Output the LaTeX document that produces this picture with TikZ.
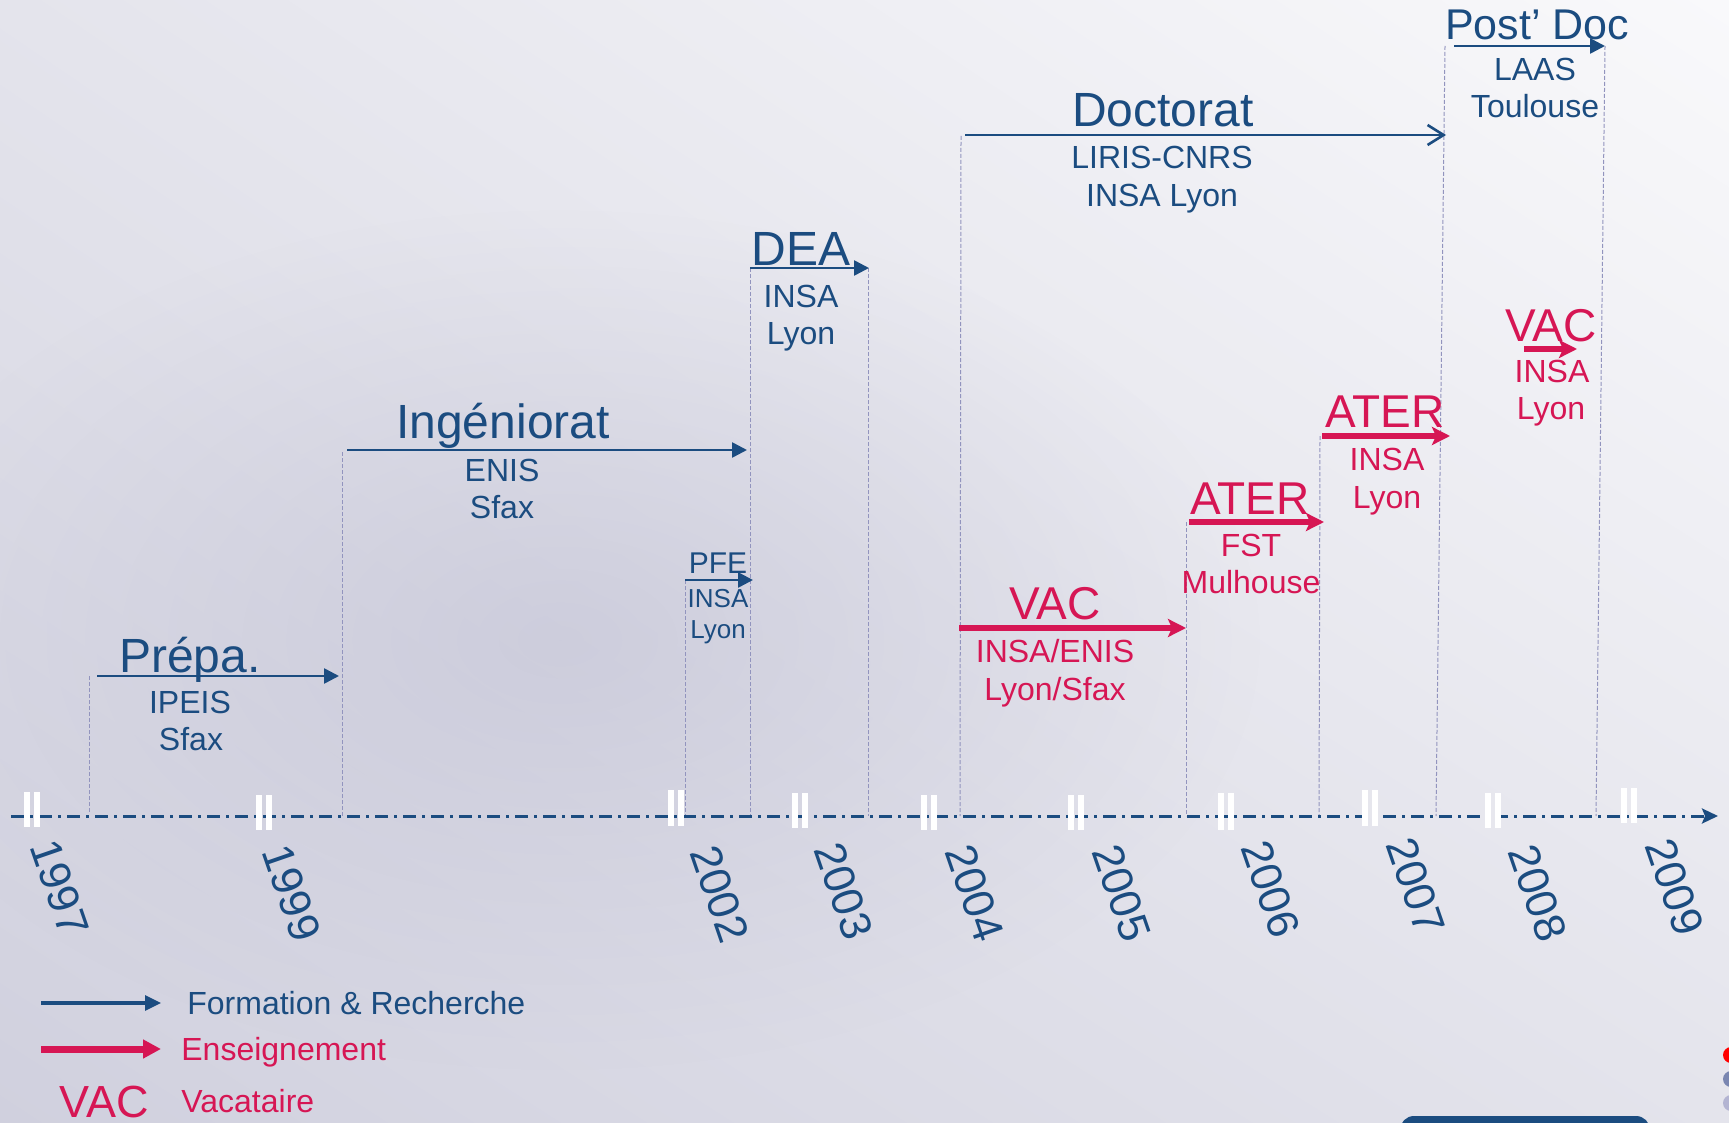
\documentclass[tikz,border=0pt]{standalone}
\usepackage{fontspec}
\setmainfont{Liberation Sans}
\usepackage{xcolor}
\usetikzlibrary{arrows.meta,positioning,fadings,shadings}

\definecolor{cvblue}{RGB}{27,76,128}
\definecolor{cvred}{RGB}{214,22,84}
\definecolor{cvguide}{RGB}{146,148,190}
\definecolor{bgtopl}{RGB}{228,228,236}
\definecolor{bgtopr}{RGB}{249,249,251}
\definecolor{bgbotl}{RGB}{208,208,222}
\definecolor{bgbotr}{RGB}{228,228,236}
\definecolor{bgdark}{RGB}{190,190,210}
\tikzfading[name=softblob, inner color=transparent!0, outer color=transparent!100]

\begin{document}
\begin{tikzpicture}[x=0.5pt,y=0.5pt,yscale=-1,
  formarrow/.style={cvblue,line width=1.3pt,-{Triangle[length=7.5pt,width=7.5pt]}},
  docarrow/.style={cvblue,line width=1.3pt,-{Straight Barb[length=8pt,width=10pt,line width=1.3pt]}},
  ensarrow/.style={cvred,line width=3.2pt,-{Stealth[length=9pt,width=9pt,inset=2pt]}},
  guide/.style={cvguide,line width=0.5pt,dash pattern=on 2pt off 1pt},
  timeaxis/.style={cvblue,line width=1.5pt,dash pattern=on 6.5pt off 3pt on 1.5pt off 3pt,-{Stealth[length=8pt,width=7.5pt,inset=1.5pt]}},
  tickbar/.style={white,line width=3pt},
  bigblue/.style={cvblue,inner sep=0pt,anchor=base,font=\fontsize{24}{28}\selectfont},
  bigred/.style={cvred,inner sep=0pt,anchor=base,font=\fontsize{23}{27}\selectfont},
  placeblue/.style={cvblue,inner sep=0pt,anchor=base,font=\fontsize{16}{19}\selectfont},
  placered/.style={cvred,inner sep=0pt,anchor=base,font=\fontsize{16}{19}\selectfont},
  smallblue/.style={cvblue,inner sep=0pt,anchor=base,font=\fontsize{13}{15}\selectfont},
  yearlbl/.style={cvblue,inner sep=0pt,rotate=-71,font=\fontsize{22}{26}\selectfont},
  legendtxt/.style={inner sep=0pt,anchor=base west,font=\fontsize{16}{19}\selectfont}]
\clip (0,0) rectangle (1729,1123);

% Background
\shade[upper left=bgtopl,upper right=bgtopr,lower left=bgbotl,lower right=bgbotr] (0,0) rectangle (1729,1123);
\fill[bgdark,opacity=0.55,path fading=softblob] (560,640) ellipse [x radius=700, y radius=430];

% Guide lines
\draw[guide] (89,676) -- (89,812);
\draw[guide] (342,452) -- (342,816);
\draw[guide] (685,580) -- (685,816);
\draw[guide] (750,268) -- (750,816);
\draw[guide] (868,268) -- (868,816);
\draw[guide] (961,136) -- (960,816);
\draw[guide] (1186,522) -- (1186,816);
\draw[guide] (1320,436) -- (1319,816);
\draw[guide] (1445,46) -- (1436,816);
\draw[guide] (1605,46) -- (1596,816);

% Time axis
\coordinate (axisS) at (11,816);
\coordinate (axisE) at (1718,816);
\draw[timeaxis] (axisS) -- (axisE);

% Year ticks
\draw[tickbar] (27,792) -- (27,827) (37,792) -- (37,827);
\draw[tickbar] (259,795) -- (259,830) (269,795) -- (269,830);
\draw[tickbar] (671,790) -- (671,826) (681,790) -- (681,826);
\draw[tickbar] (795,793) -- (795,828) (805,793) -- (805,828);
\draw[tickbar] (924,795) -- (924,830) (934,795) -- (934,830);
\draw[tickbar] (1071,795) -- (1071,830) (1081,795) -- (1081,830);
\draw[tickbar] (1221,793) -- (1221,830) (1231,793) -- (1231,830);
\draw[tickbar] (1365,790) -- (1365,826) (1375,790) -- (1375,826);
\draw[tickbar] (1488,793) -- (1488,828) (1498,793) -- (1498,828);
\draw[tickbar] (1624,788) -- (1624,823) (1634,788) -- (1634,823);

% Years
\node[yearlbl] (y1997) at (60,888) {1997};
\node[yearlbl] (y1999) at (292,893) {1999};
\node[yearlbl] (y2002) at (720,894) {2002};
\node[yearlbl] (y2003) at (844,891) {2003};
\node[yearlbl] (y2004) at (975,893) {2004};
\node[yearlbl] (y2005) at (1122,893) {2005};
\node[yearlbl] (y2006) at (1271,889) {2006};
\node[yearlbl] (y2007) at (1416,886) {2007};
\node[yearlbl] (y2008) at (1538,893) {2008};
\node[yearlbl] (y2009) at (1675,887) {2009};

% Prepa
\coordinate (prepaS) at (97,676);
\coordinate (prepaE) at (339,676);
\draw[formarrow] (prepaS) -- (prepaE);
\node[bigblue] (prepaT) at (190,672) {Prépa.};
\node[placeblue] (prepaA) at (190,713) {IPEIS};
\node[placeblue] (prepaB) at (191,750) {Sfax};

% Ingeniorat
\coordinate (ingS) at (347,450);
\coordinate (ingE) at (747,450);
\draw[formarrow] (ingS) -- (ingE);
\node[bigblue] (ingT) at (503,438) {Ingéniorat};
\node[placeblue] (ingA) at (502,481) {ENIS};
\node[placeblue] (ingB) at (502,518) {Sfax};

% PFE
\coordinate (pfeS) at (685,580);
\coordinate (pfeE) at (753,580);
\draw[formarrow] (pfeS) -- (pfeE);
\node[cvblue,inner sep=0pt,anchor=base,font=\fontsize{15}{18}\selectfont] (pfeT) at (718,573) {PFE};
\node[smallblue] (pfeA) at (718,607) {INSA};
\node[smallblue] (pfeB) at (718,638) {Lyon};

% DEA
\coordinate (deaS) at (750,268);
\coordinate (deaE) at (869,268);
\draw[formarrow] (deaS) -- (deaE);
\node[bigblue] (deaT) at (801,265) {DEA};
\node[placeblue] (deaA) at (801,307) {INSA};
\node[placeblue] (deaB) at (801,344) {Lyon};

% Doctorat
\coordinate (docS) at (965,135);
\coordinate (docE) at (1446,135);
\draw[docarrow] (docS) -- (docE);
\node[bigblue] (docT) at (1163,127) {Doctorat};
\node[placeblue] (docA) at (1162,169) {LIRIS-CNRS};
\node[placeblue] (docB) at (1162,207) {INSA Lyon};

% Post doc
\coordinate (postS) at (1454,46);
\coordinate (postE) at (1605,46);
\draw[formarrow] (postS) -- (postE);
\node[cvblue,inner sep=0pt,anchor=base,font=\fontsize{21.5}{25}\selectfont] (postT) at (1537,40) {Post’ Doc};
\node[placeblue] (postA) at (1535,81) {LAAS};
\node[placeblue] (postB) at (1535,118) {Toulouse};

% VAC INSA/ENIS
\coordinate (vacS) at (959,628);
\coordinate (vacE) at (1186,628);
\draw[ensarrow] (vacS) -- (vacE);
\node[bigred] (vacT) at (1055,619) {VAC};
\node[placered] (vacA) at (1055,662) {INSA/ENIS};
\node[placered] (vacB) at (1055,700) {Lyon/Sfax};

% ATER FST
\coordinate (aterfS) at (1189,522);
\coordinate (aterfE) at (1324,522);
\draw[ensarrow] (aterfS) -- (aterfE);
\node[bigred] (aterfT) at (1250,514) {ATER};
\node[placered] (aterfA) at (1251,556) {FST};
\node[placered] (aterfB) at (1251,593) {Mulhouse};

% ATER INSA
\coordinate (ateriS) at (1322,436);
\coordinate (ateriE) at (1450,436);
\draw[ensarrow] (ateriS) -- (ateriE);
\node[bigred] (ateriT) at (1385,427) {ATER};
\node[placered] (ateriA) at (1387,470) {INSA};
\node[placered] (ateriB) at (1387,508) {Lyon};

% VAC INSA
\coordinate (vaciS) at (1524,349);
\coordinate (vaciE) at (1577,349);
\draw[ensarrow] (vaciS) -- (vaciE);
\node[bigred] (vaciT) at (1551,341) {VAC};
\node[placered] (vaciA) at (1552,382) {INSA};
\node[placered] (vaciB) at (1551,419) {Lyon};

% Legend
\coordinate (legFS) at (41,1003);
\coordinate (legFE) at (161,1003);
\draw[cvblue,line width=1.6pt,-{Triangle[length=8pt,width=7.5pt]}] (legFS) -- (legFE);
\node[legendtxt,cvblue] (legF) at (187,1014) {Formation \& Recherche};
\coordinate (legES) at (41,1049);
\coordinate (legEE) at (161,1049);
\draw[cvred,line width=3.5pt,-{Triangle[length=9pt,width=9pt]}] (legES) -- (legEE);
\node[legendtxt,cvred] (legE) at (181,1060) {Enseignement};
\node[cvred,inner sep=0pt,anchor=base,font=\fontsize{22.5}{27}\selectfont] (legVac) at (104,1117) {VAC};
\node[legendtxt,cvred] (legV) at (181,1112) {Vacataire};

% Slide corner
\fill[cvblue,rounded corners=7pt] (1400,1116) rectangle (1650,1150);
\fill[red] (1731,1055) circle (8);
\fill[cvguide!80!cvblue] (1731,1079) circle (8);
\fill[cvguide!70] (1731,1103) circle (8);

\end{tikzpicture}
\end{document}
